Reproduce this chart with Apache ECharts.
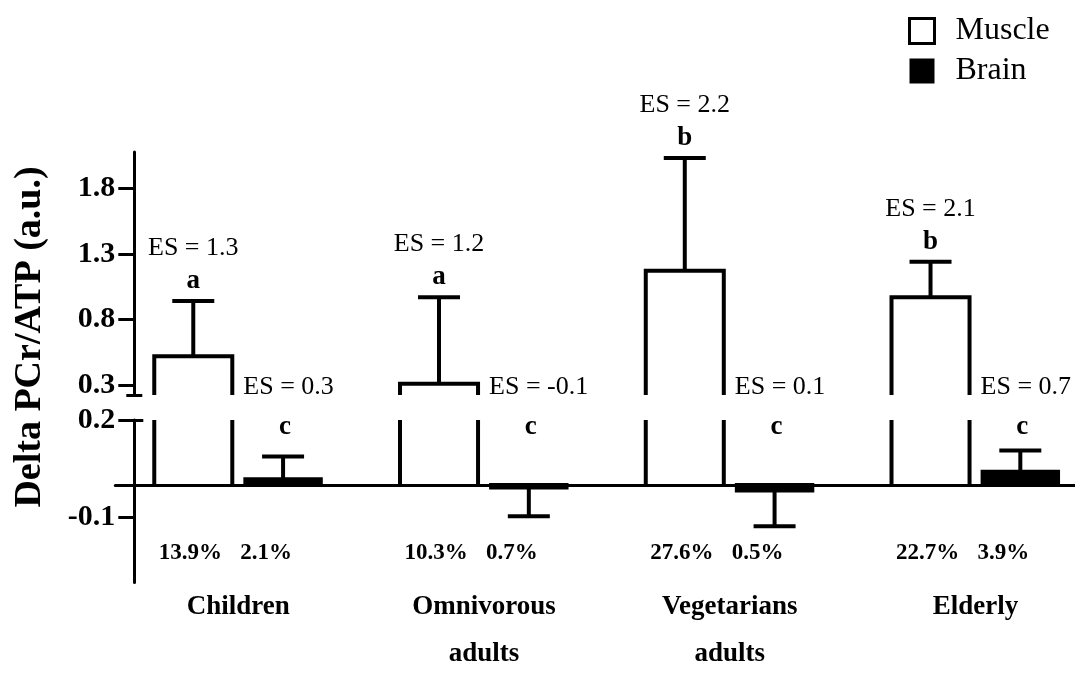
<!DOCTYPE html>
<html>
<head>
<meta charset="utf-8">
<script src="https://cdn.jsdelivr.net/npm/echarts@6/dist/echarts.min.js"></script>
<style>
  html, body { margin: 0; padding: 0; background: #fff; overflow: hidden; }
  #chart { width: 1075px; height: 684px; }
</style>
</head>
<body>
<div id="chart"></div>
<script>
// Groups and measured changes in PCr/ATP
const categories = ['Children', 'Omnivorous\nadults', 'Vegetarians\nadults', 'Elderly'];
const muscleMean = [0.52, 0.31, 1.17, 0.97];
const muscleErr = [0.42, 0.66, 0.86, 0.27];
const brainMean = [0.018, -0.008, -0.017, 0.041];
const brainErr = [0.07, 0.088, 0.11, 0.065];

// Annotations
const muscleES = ['ES = 1.3', 'ES = 1.2', 'ES = 2.2', 'ES = 2.1'];
const brainES = ['ES = 0.3', 'ES = -0.1', 'ES = 0.1', 'ES = 0.7'];
const muscleLetter = ['a', 'a', 'b', 'b'];
const brainLetter = ['c', 'c', 'c', 'c'];
const musclePct = ['13.9%', '10.3%', '27.6%', '22.7%'];
const brainPct = ['2.1%', '0.7%', '0.5%', '3.9%'];

// Tick labels of the two axis segments
const upperTicks = [0.3, 0.8, 1.3, 1.8];
const lowerTicks = [-0.1, 0.2];
const lowerTickMarks = [-0.1, 0, 0.2];

// Broken value axis: upper and lower segment ranges
const UPPER_MIN = 0.225, UPPER_MAX = 2.075;
const LOWER_MIN = -0.3, LOWER_MAX = 0.2;

const SERIF = '"Liberation Serif", "Times New Roman", serif';
const LW = 4;                 // outline width of bars and error bars
const OFFSET = 0.1827;        // bar centre offset from group centre (fraction of band)
const MUSCLE_W = 0.3175;      // muscle bar width (fraction of band)
const BRAIN_W = 0.307;        // brain bar width (fraction of band)
const CAP = 21;               // half width of error bar caps

function barGeom(api, i, v, sign, wFrac) {
  const band = api.size([1, 0])[0];
  const c = api.coord([i, v]);
  return { cx: c[0] + sign * band * OFFSET, half: band * wFrac / 2, y: c[1] };
}

function errorBar(cx, y0, y1) {
  return [
    { type: 'line', shape: { x1: cx, y1: y0, x2: cx, y2: y1 }, style: { stroke: '#000', lineWidth: LW } },
    { type: 'line', shape: { x1: cx - CAP, y1: y1, x2: cx + CAP, y2: y1 }, style: { stroke: '#000', lineWidth: LW } }
  ];
}

function txt(x, y, text, font, align) {
  return {
    type: 'text', x: x, y: y,
    style: { text: text, fill: '#000', font: font, align: align || 'center', verticalAlign: 'middle' }
  };
}

// Upper part of the muscle bars: sides, top, error bar, ES and letter
function renderMuscleUpper(params, api) {
  const i = api.value(0), v = api.value(1), e = api.value(2);
  const g = barGeom(api, i, v, -1, MUSCLE_W);
  const yBase = params.coordSys.y + params.coordSys.height;
  const yErr = api.coord([i, v + e])[1];
  const children = [
    { type: 'polyline',
      shape: { points: [[g.cx - g.half, yBase], [g.cx - g.half, g.y], [g.cx + g.half, g.y], [g.cx + g.half, yBase]] },
      style: { fill: null, stroke: '#000', lineWidth: LW, lineJoin: 'miter' } }
  ].concat(errorBar(g.cx, g.y, yErr));
  children.push(txt(g.cx, yErr - 53, muscleES[i], '26px ' + SERIF));
  children.push(txt(g.cx, yErr - 20, muscleLetter[i], 'bold 27px ' + SERIF));
  return { type: 'group', children: children };
}

// Lower part of the muscle bars: the two sides up to the break, and the percentage
function renderMuscleLower(params, api) {
  const i = api.value(0), v = api.value(1);
  const g = barGeom(api, i, Math.min(v, LOWER_MAX), -1, MUSCLE_W);
  const y0 = api.coord([i, 0])[1];
  const yPct = api.coord([i, -0.2])[1] + 3;
  return { type: 'group', children: [
    { type: 'line', shape: { x1: g.cx - g.half, y1: y0, x2: g.cx - g.half, y2: g.y }, style: { stroke: '#000', lineWidth: LW } },
    { type: 'line', shape: { x1: g.cx + g.half, y1: y0, x2: g.cx + g.half, y2: g.y }, style: { stroke: '#000', lineWidth: LW } },
    txt(g.cx - 3, yPct, musclePct[i], 'bold 23px ' + SERIF)
  ] };
}

// Brain bars with error bars and annotations
function renderBrain(params, api) {
  const i = api.value(0), v = api.value(1), e = api.value(2);
  const g = barGeom(api, i, v, 1, BRAIN_W);
  const y0 = api.coord([i, 0])[1];
  const sign = v >= 0 ? 1 : -1;
  const yErr = api.coord([i, v + sign * e])[1];
  const top = params.coordSys.y;
  const yPct = api.coord([i, -0.2])[1] + 3;
  const children = [
    { type: 'rect',
      shape: { x: g.cx - g.half, y: Math.min(y0, g.y), width: 2 * g.half, height: Math.abs(g.y - y0) },
      style: { fill: '#000', stroke: '#000', lineWidth: LW } }
  ].concat(errorBar(g.cx, g.y, yErr));
  children.push(txt(g.cx - g.half - 2, top - 33, brainES[i], '26px ' + SERIF, 'left'));
  children.push(txt(g.cx + 2, top + 7, brainLetter[i], 'bold 27px ' + SERIF));
  children.push(txt(g.cx - 17, yPct, brainPct[i], 'bold 23px ' + SERIF));
  return { type: 'group', children: children };
}

const muscleData = categories.map((c, i) => [i, muscleMean[i], muscleErr[i]]);
const brainData = categories.map((c, i) => [i, brainMean[i], brainErr[i]]);

const tickLabel = { color: '#000', fontFamily: SERIF, fontWeight: 'bold', fontSize: 30, margin: 19,
                    formatter: v => Number(v).toFixed(1) };
const axisLine = { show: true, lineStyle: { color: '#000', width: 3 } };
const tickStyle = { color: '#000', width: 3 };

// one stub axis: draws only a short tick mark at the segment break
function stubAxis(grid, min, max, at, inside, len) {
  return { type: 'value', gridIndex: grid, min: min, max: max, position: 'left', offset: -19,
           splitLine: { show: false }, axisLine: { show: false }, axisLabel: { show: false },
           axisTick: { show: true, inside: inside, length: len, lineStyle: tickStyle, customValues: [at] } };
}

const chart = echarts.init(document.getElementById('chart'), null, { renderer: 'canvas' });
chart.setOption({
  animation: false,
  backgroundColor: '#fff',
  legend: {
    orient: 'vertical', left: 908, top: 15, padding: 0,
    itemWidth: 25, itemHeight: 25, itemGap: 8,
    icon: 'rect',
    textStyle: { color: '#000', fontFamily: SERIF, fontSize: 32, padding: [0, 0, 0, 16] },
    data: [
      { name: 'Muscle', itemStyle: { color: '#fff', borderColor: '#000', borderWidth: 3 } },
      { name: 'Brain', itemStyle: { color: '#000', borderColor: '#000', borderWidth: 0 } }
    ]
  },
  graphic: [{
    type: 'text', x: 30, y: 337, rotation: Math.PI / 2,
    style: { text: 'Delta PCr/ATP (a.u.)', fill: '#000', font: 'bold 38px ' + SERIF,
             align: 'center', verticalAlign: 'middle' }
  }],
  grid: [
    { left: 115.3, width: 983, top: 152, height: 243, outerBoundsMode: 'none', containLabel: false },
    { left: 115.3, width: 983, top: 420, height: 162.5, outerBoundsMode: 'none', containLabel: false }
  ],
  xAxis: [
    { type: 'category', gridIndex: 0, data: categories, show: false },
    { type: 'category', gridIndex: 1, data: categories,
      axisLine: { show: true, onZero: true, lineStyle: { color: '#000', width: 3 } },
      axisTick: { show: false },
      axisLabel: { color: '#000', fontFamily: SERIF, fontWeight: 'bold', fontSize: 27,
                   lineHeight: 47, margin: 1, interval: 0 } }
  ],
  yAxis: [
    { type: 'value', gridIndex: 0, min: UPPER_MIN, max: UPPER_MAX, position: 'left', offset: -19,
      splitLine: { show: false }, axisLine: axisLine,
      axisTick: { show: true, length: 16, lineStyle: tickStyle, customValues: upperTicks },
      axisLabel: Object.assign({ customValues: upperTicks }, tickLabel) },
    stubAxis(0, UPPER_MIN, UPPER_MAX, UPPER_MIN, false, 8),
    stubAxis(0, UPPER_MIN, UPPER_MAX, UPPER_MIN, true, 8),
    { type: 'value', gridIndex: 1, min: LOWER_MIN, max: LOWER_MAX, position: 'left', offset: -19,
      splitLine: { show: false }, axisLine: axisLine,
      axisTick: { show: true, length: 16, lineStyle: tickStyle, customValues: lowerTickMarks },
      axisLabel: Object.assign({ customValues: lowerTicks }, tickLabel) },
    stubAxis(1, LOWER_MIN, LOWER_MAX, LOWER_MAX, true, 9)
  ],
  series: [
    { name: 'Muscle', type: 'custom', xAxisIndex: 0, yAxisIndex: 0, clip: false,
      itemStyle: { color: '#fff', borderColor: '#000' },
      renderItem: renderMuscleUpper, data: muscleData, encode: { x: 0, y: 1 } },
    { name: 'Muscle', type: 'custom', xAxisIndex: 1, yAxisIndex: 3, clip: false,
      itemStyle: { color: '#fff', borderColor: '#000' },
      renderItem: renderMuscleLower, data: muscleData, encode: { x: 0, y: 1 } },
    { name: 'Brain', type: 'custom', xAxisIndex: 1, yAxisIndex: 3, clip: false,
      itemStyle: { color: '#000' },
      renderItem: renderBrain, data: brainData, encode: { x: 0, y: 1 } }
  ]
});
</script>
</body>
</html>
